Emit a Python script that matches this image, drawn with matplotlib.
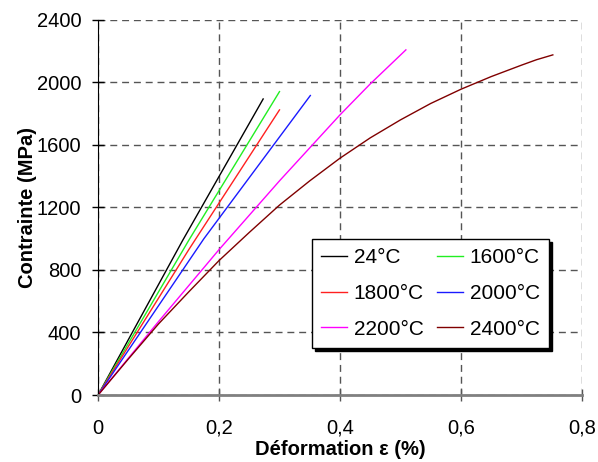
import numpy as np
import matplotlib
matplotlib.use("Agg")
import matplotlib.pyplot as plt

plt.rcParams["font.family"] = ["Liberation Sans", "DejaVu Sans"]

# Courbes contrainte-déformation
eps_24 = [0.0, 0.14, 0.273]
sig_24 = [0, 990, 1894]

eps_1600 = [0.0, 0.15, 0.300]
sig_1600 = [0, 990, 1941]

eps_1800 = [0.0, 0.15, 0.300]
sig_1800 = [0, 930, 1824]

eps_2000 = [0.0, 0.175, 0.351]
sig_2000 = [0, 1000, 1916]

eps_2200 = [0.0, 0.1, 0.2, 0.3, 0.4, 0.45, 0.509]
sig_2200 = [0, 470, 930, 1370, 1792, 1990, 2208]

eps_2400 = [0.0, 0.05, 0.1, 0.15, 0.2, 0.25, 0.3, 0.35, 0.4, 0.45,
            0.5, 0.55, 0.6, 0.65, 0.7, 0.725, 0.752]
sig_2400 = [0, 230, 455, 660, 860, 1040, 1215, 1370, 1515, 1645,
            1760, 1865, 1956, 2037, 2110, 2145, 2176]

series = [
    ("24°C", eps_24, sig_24, "#000000"),
    ("1600°C", eps_1600, sig_1600, "#22ee22"),
    ("1800°C", eps_1800, sig_1800, "#ff2020"),
    ("2000°C", eps_2000, sig_2000, "#1a1aff"),
    ("2200°C", eps_2200, sig_2200, "#ff00ff"),
    ("2400°C", eps_2400, sig_2400, "#800000"),
]

x_ticks = [0, 0.2, 0.4, 0.6, 0.8]
x_labels = ["0", "0,2", "0,4", "0,6", "0,8"]
y_ticks = [0, 400, 800, 1200, 1600, 2000, 2400]

fig = plt.figure(figsize=(5.98, 4.62), dpi=100)
ax = fig.add_axes([0.164, 0.145, 0.809, 0.812])

lignes = {}
for label, x, y, c in series:
    lignes[label], = ax.plot(x, y, color=c, linewidth=1.0, label=label)

ax.set_xlim(0, 0.8)
ax.set_ylim(0, 2400)
ax.set_xticks(x_ticks)
ax.set_xticklabels(x_labels)
ax.set_yticks(y_ticks)

# grille en tirets
ax.grid(True, color="#555555", linestyle=(0, (5, 3.5)), linewidth=1.0)
ax.set_axisbelow(True)

for s in ["top", "right"]:
    ax.spines[s].set_visible(False)
ax.spines["left"].set_color("black")
ax.spines["bottom"].set_color("#808080")
ax.spines["bottom"].set_linewidth(2)

ax.tick_params(axis="both", direction="inout", length=8, width=1,
               labelsize=14.5, pad=8)
ax.tick_params(axis="x", colors="#555555", labelcolor="black", pad=13)

ax.set_xlabel("Déformation ε (%)", fontsize=14.5, fontweight="bold", labelpad=2)
ax.set_ylabel("Contrainte (MPa)", fontsize=14.5, fontweight="bold", labelpad=0)

# ordre ligne par ligne comme dans l'original (matplotlib remplit par colonne)
ordre = ["24°C", "1800°C", "2200°C", "1600°C", "2000°C", "2400°C"]
leg = ax.legend([lignes[k] for k in ordre], ordre, ncol=2, loc="lower left",
                bbox_to_anchor=(0.442, 0.125),
                fontsize=15, frameon=True, fancybox=False, framealpha=1,
                edgecolor="black", shadow={"color": "black", "alpha": 1},
                handlelength=1.25, handletextpad=0.3, columnspacing=0.65,
                labelspacing=0.8, borderpad=0.45, borderaxespad=0)
leg.get_frame().set_linewidth(1.0)

fig.savefig("out.png", dpi=100)
